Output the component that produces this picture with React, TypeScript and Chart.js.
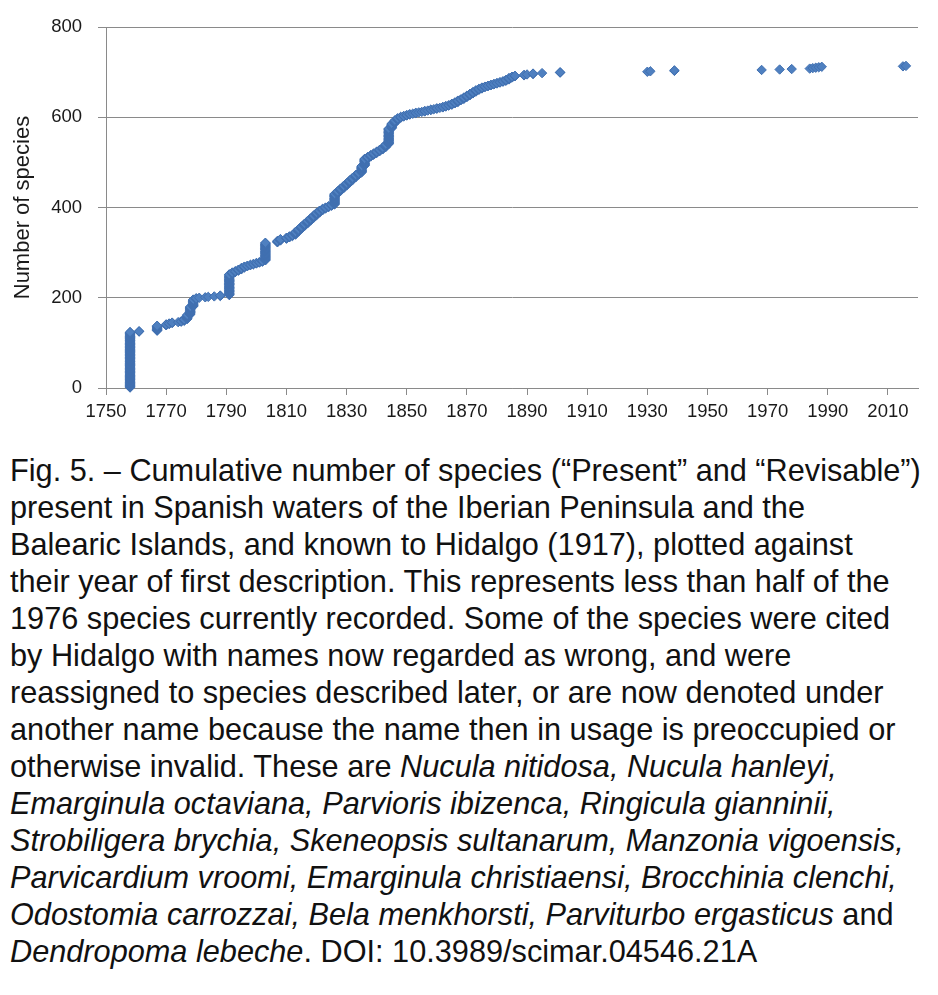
import React, { useEffect, useRef } from "react";
import { Chart, registerables } from "chart.js";

Chart.register(...registerables);

// Year of first description and cumulative number of species at the end of that year
const years = [
  1758, 1761, 1767, 1770, 1771, 1772, 1774, 1775, 1776, 1777, 1778, 1779, 1780, 1781, 1783, 1784, 1786, 1788,
  1791, 1792, 1793, 1794, 1795, 1796, 1797, 1798, 1799, 1800, 1801, 1802, 1803, 1807, 1808, 1810, 1811, 1812,
  1813, 1814, 1815, 1816, 1817, 1818, 1819, 1820, 1821, 1822, 1823, 1824, 1825, 1826, 1827, 1828, 1829, 1830,
  1831, 1832, 1833, 1834, 1835, 1836, 1837, 1838, 1839, 1840, 1841, 1842, 1843, 1844, 1845, 1846, 1847, 1848,
  1849, 1850, 1851, 1852, 1853, 1854, 1855, 1856, 1857, 1858, 1859, 1860, 1861, 1862, 1863, 1864, 1865, 1866,
  1867, 1868, 1869, 1870, 1871, 1872, 1873, 1874, 1875, 1876, 1877, 1878, 1879, 1880, 1881, 1882, 1883, 1884,
  1885, 1886, 1889, 1890, 1892, 1895, 1901, 1930, 1931, 1939, 1968, 1974, 1978, 1984, 1985, 1986, 1987, 1988,
  2015, 2016,
];
const cumulativeSpecies = [
  124, 126, 138, 141, 143, 145, 146, 148, 152, 162, 180, 196, 199, 200, 201, 202, 203, 205,
  252, 256, 259, 262, 266, 269, 271, 273, 275, 277, 279, 282, 322, 326, 330, 333, 336, 339,
  346, 352, 358, 364, 370, 376, 382, 388, 393, 397, 400, 403, 406, 430, 436, 442, 448, 454,
  460, 466, 472, 477, 492, 508, 512, 516, 520, 524, 528, 533, 540, 575, 586, 593, 598, 601,
  603, 605, 607, 608, 610, 611, 612, 614, 615, 617, 618, 620, 621, 623, 625, 627, 630, 633,
  637, 640, 644, 648, 652, 656, 660, 663, 666, 668, 670, 672, 674, 676, 678, 680, 683, 687,
  690, 692, 694, 695, 697, 698, 700, 701, 702, 704, 705, 706, 707, 708, 709, 710, 711, 712,
  713, 714,
];

const xTickYears = [1750, 1770, 1790, 1810, 1830, 1850, 1870, 1890, 1910, 1930, 1950, 1970, 1990, 2010];
const yTickStep = 200;

const captionLines: { text: string; italic?: boolean }[][] = [
  [{ text: "Fig. 5. – Cumulative number of species (“Present” and “Revisable”)" }],
  [{ text: "present in Spanish waters of the Iberian Peninsula and the" }],
  [{ text: "Balearic Islands, and known to Hidalgo (1917), plotted against" }],
  [{ text: "their year of first description. This represents less than half of the" }],
  [{ text: "1976 species currently recorded. Some of the species were cited" }],
  [{ text: "by Hidalgo with names now regarded as wrong, and were" }],
  [{ text: "reassigned to species described later, or are now denoted under" }],
  [{ text: "another name because the name then in usage is preoccupied or" }],
  [{ text: "otherwise invalid. These are " }, { text: "Nucula nitidosa, Nucula hanleyi,", italic: true }],
  [{ text: "Emarginula octaviana, Parvioris ibizenca, Ringicula gianninii,", italic: true }],
  [{ text: "Strobiligera brychia, Skeneopsis sultanarum, Manzonia vigoensis,", italic: true }],
  [{ text: "Parvicardium vroomi, Emarginula christiaensi, Brocchinia clenchi,", italic: true }],
  [{ text: "Odostomia carrozzai, Bela menkhorsti, Parviturbo ergasticus", italic: true }, { text: " and" }],
  [{ text: "Dendropoma lebeche", italic: true }, { text: ". DOI: 10.3989/scimar.04546.21A" }],
];

function buildPoints() {
  const pts: { x: number; y: number }[] = [];
  let prev = 0;
  for (let i = 0; i < years.length; i++) {
    for (let n = prev + 1; n <= cumulativeSpecies[i]; n++) pts.push({ x: years[i], y: n });
    prev = cumulativeSpecies[i];
  }
  return pts;
}

const FONT = "'Liberation Sans', Arial, Helvetica, sans-serif";
const GRID = "#8a8a8a";

export default function App() {
  const ref = useRef<HTMLCanvasElement | null>(null);

  useEffect(() => {
    if (!ref.current) return;
    const chart = new Chart(ref.current, {
      type: "scatter",
      data: {
        datasets: [
          {
            data: buildPoints(),
            pointStyle: "rectRot",
            pointRadius: 4.7,
            pointHoverRadius: 4.7,
            backgroundColor: "#4F80C0",
            borderColor: "#406FB0",
            borderWidth: 1,
            clip: false,
          } as any,
        ],
      },
      options: {
        animation: false,
        responsive: false,
        maintainAspectRatio: false,
        events: [],
        layout: { padding: { top: 24, right: 20, left: 0, bottom: 0 } },
        plugins: { legend: { display: false }, tooltip: { enabled: false } },
        scales: {
          x: {
            type: "linear",
            min: 1750,
            max: 2020,
            afterBuildTicks: (s: any) => {
              s.ticks = xTickYears.map((v) => ({ value: v }));
            },
            afterFit: (s: any) => {
              s.height = 52;
            },
            ticks: {
              callback: (v: any) => String(v),
              font: { family: FONT, size: 18.5 },
              color: "#1a1a1a",
              padding: 6,
              maxRotation: 0,
              autoSkip: false,
            },
            grid: { drawOnChartArea: false, drawTicks: true, tickLength: 7, color: GRID, lineWidth: 1 },
            border: { color: GRID, width: 1 },
          },
          y: {
            type: "linear",
            min: 0,
            max: 800,
            afterFit: (s: any) => {
              s.width = 106;
            },
            ticks: {
              stepSize: yTickStep,
              font: { family: FONT, size: 18.5 },
              color: "#1a1a1a",
              padding: 16,
            },
            grid: { color: GRID, lineWidth: 1, tickLength: 8 },
            border: { color: GRID, width: 1 },
            title: {
              display: true,
              text: "Number of species",
              font: { family: FONT, size: 22 },
              color: "#1a1a1a",
              padding: { top: 10, bottom: 0 },
            },
          },
        },
      },
    });
    return () => chart.destroy();
  }, []);

  return (
    <div style={{ position: "absolute", left: 0, top: 0, width: 938, height: 995, background: "#fff", overflow: "hidden" }}>
      <canvas ref={ref} width={938} height={440} style={{ position: "absolute", left: 0, top: 0, width: 938, height: 440 }} />
      <div
        style={{
          position: "absolute",
          left: 10,
          top: 452,
          fontFamily: FONT,
          fontSize: 30.7,
          lineHeight: "37px",
          color: "#111",
          whiteSpace: "nowrap",
        }}
      >
        {captionLines.map((line, i) => (
          <div key={i}>
            {line.map((seg, j) => (
              <span key={j} style={{ fontStyle: seg.italic ? "italic" : "normal" }}>
                {seg.text}
              </span>
            ))}
          </div>
        ))}
      </div>
    </div>
  );
}
